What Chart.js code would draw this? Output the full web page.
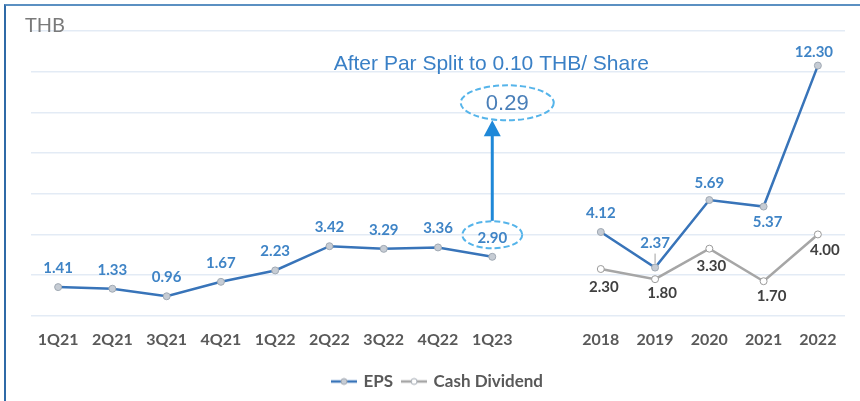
<!DOCTYPE html>
<html>
<head>
<meta charset="utf-8">
<script src="https://cdn.jsdelivr.net/npm/chart.js@4.4.1/dist/chart.umd.min.js"></script>
<style>
  html, body { margin: 0; padding: 0; background: #fff; }
  #wrap { position: relative; width: 860px; height: 401px; overflow: hidden; }
  #frame {
    position: absolute; left: 4px; top: 4px; right: 0; bottom: 0;
    border-top: 2px solid #5b90c2; border-left: 2px solid #2f6aa7;
    pointer-events: none;
  }
</style>
</head>
<body>
<div id="wrap">
  <canvas id="epsChart" width="860" height="401"></canvas>
  <div id="frame"></div>
</div>
<script>
// Values
const quarters = ['1Q21', '2Q21', '3Q21', '4Q21', '1Q22', '2Q22', '3Q22', '4Q22', '1Q23'];
const years = ['2018', '2019', '2020', '2021', '2022'];

const epsQuarter = [1.41, 1.33, 0.96, 1.67, 2.23, 3.42, 3.29, 3.36, 2.90];
const epsYear = [4.12, 2.37, 5.69, 5.37, 12.30];
const dividendYear = [2.30, 1.80, 3.30, 1.70, 4.00];

const yMin = 0;
const yMax = 14;
const yStep = 2;

const splitNote = 'After Par Split to 0.10 THB/ Share';
const splitValue = '0.29';

// one blank slot between the quarterly and yearly parts
const labels = quarters.concat([''], years);
const epsData = epsQuarter.concat([null], epsYear);
const dividendData = quarters.map(() => null).concat([null], dividendYear);

const EPS_BLUE = '#3874b9';
const EPS_TEXT = '#3f84c6';
const DIV_GRAY = '#a6a6a6';
const DIV_TEXT = '#404040';
const NOTE_BLUE = '#3a80c6';
const DASH_BLUE = '#55b4ea';

// label placement tweaks: [dx, dy] from the point
const epsLabelShift = { '2019': [0, -24], '2020': [0, -17], '2021': [4, 16], '2022': [-4, -13] };
const divLabelShift = { '2018': [3, 18], '2019': [7, 14], '2020': [2, 17], '2021': [8, 15], '2022': [7, 16] };

function legendIcon(color, fill) {
    const c = document.createElement('canvas');
    c.width = 26; c.height = 10;
    const g = c.getContext('2d');
    g.strokeStyle = color;
    g.lineWidth = 2.5;
    g.beginPath(); g.moveTo(0, 5); g.lineTo(26, 5); g.stroke();
    g.fillStyle = fill;
    g.lineWidth = 1;
    g.strokeStyle = '#a0a7b0';
    g.beginPath(); g.arc(13, 5, 3, 0, Math.PI * 2); g.fill(); g.stroke();
    return c;
}

const valueLabels = {
    id: 'valueLabels',
    afterDatasetsDraw(chart) {
        const ctx = chart.ctx;
        ctx.save();
        ctx.font = 'bold 15px Lato';
        ctx.textAlign = 'center';
        ctx.textBaseline = 'middle';
        chart.data.datasets.forEach((ds, di) => {
            const meta = chart.getDatasetMeta(di);
            meta.data.forEach((pt, i) => {
                const v = ds.data[i];
                if (v === null || v === undefined) return;
                const cat = labels[i];
                let shift;
                if (di === 0) {
                    shift = epsLabelShift[cat] || [0, -19];
                    ctx.fillStyle = EPS_TEXT;
                } else {
                    shift = divLabelShift[cat] || [0, 16];
                    ctx.fillStyle = DIV_TEXT;
                }
                ctx.fillText(v.toFixed(2), pt.x + shift[0], pt.y + shift[1]);
                if (di === 0 && cat === '2019') {
                    // small leader line under 2.37
                    ctx.strokeStyle = '#a0a0a0';
                    ctx.lineWidth = 1;
                    ctx.beginPath();
                    ctx.moveTo(pt.x, pt.y - 14);
                    ctx.lineTo(pt.x, pt.y - 4);
                    ctx.stroke();
                }
            });
        });
        ctx.restore();
    }
};

function dashedEllipse(ctx, cx, cy, rx, ry) {
    ctx.save();
    ctx.strokeStyle = DASH_BLUE;
    ctx.lineWidth = 2;
    ctx.setLineDash([6, 3]);
    ctx.beginPath();
    ctx.ellipse(cx, cy, rx, ry, 0, 0, Math.PI * 2);
    ctx.stroke();
    ctx.restore();
}

const splitNotes = {
    id: 'splitNotes',
    afterDraw(chart) {
        const ctx = chart.ctx;
        const area = chart.chartArea;
        const pt = chart.getDatasetMeta(0).data[quarters.length - 1];
        const px = pt.x, py = pt.y;

        ctx.save();
        // unit caption
        ctx.fillStyle = '#7a7a7a';
        ctx.font = '20px Lato';
        ctx.textAlign = 'left';
        ctx.textBaseline = 'alphabetic';
        ctx.fillText('THB', area.left - 6, area.top + 1);

        // ring around the last quarterly label
        dashedEllipse(ctx, px, py - 22, 30, 13.5);

        // arrow up to the split value
        const bigCy = py - 154;
        const tipY = bigCy + 17.5;
        ctx.strokeStyle = '#1f88d8';
        ctx.fillStyle = '#1f88d8';
        ctx.lineWidth = 3;
        ctx.beginPath();
        ctx.moveTo(px, py - 36);
        ctx.lineTo(px, tipY + 14);
        ctx.stroke();
        ctx.beginPath();
        ctx.moveTo(px, tipY);
        ctx.lineTo(px - 8.5, tipY + 16);
        ctx.lineTo(px + 8.5, tipY + 16);
        ctx.closePath();
        ctx.fill();

        dashedEllipse(ctx, px + 15, bigCy, 46.5, 17.5);

        ctx.fillStyle = '#4a7fb8';
        ctx.font = '22px "Liberation Sans", Arial, sans-serif';
        ctx.textAlign = 'center';
        ctx.textBaseline = 'middle';
        ctx.fillText(splitValue, px + 15, bigCy + 1);

        ctx.fillStyle = NOTE_BLUE;
        ctx.font = '21px "Liberation Sans", Arial, sans-serif';
        ctx.fillText(splitNote, px - 1, py - 193);
        ctx.restore();
    }
};

new Chart(document.getElementById('epsChart'), {
    type: 'line',
    data: {
        labels: labels,
        datasets: [
            {
                label: 'EPS',
                data: epsData,
                borderColor: EPS_BLUE,
                borderWidth: 2.5,
                pointRadius: 3.5,
                pointBackgroundColor: '#c6ccd4',
                pointBorderColor: '#a0a9b3',
                pointBorderWidth: 1,
                spanGaps: false,
                tension: 0
            },
            {
                label: 'Cash Dividend',
                data: dividendData,
                borderColor: DIV_GRAY,
                borderWidth: 2.5,
                pointRadius: 3.5,
                pointBackgroundColor: '#ffffff',
                pointBorderColor: '#9a9a9a',
                pointBorderWidth: 1,
                spanGaps: false,
                tension: 0
            }
        ]
    },
    options: {
        responsive: false,
        animation: false,
        layout: { padding: { left: 31, right: 15, top: 31, bottom: 1 } },
        scales: {
            x: {
                offset: true,
                grid: { display: false, drawTicks: false },
                border: { display: false },
                ticks: {
                    color: '#595959',
                    font: { family: 'Lato', size: 16, weight: 'bold' },
                    padding: 14,
                    autoSkip: false,
                    maxRotation: 0
                }
            },
            y: {
                min: yMin,
                max: yMax,
                ticks: { display: false, stepSize: yStep },
                grid: { color: '#e3ebf5', lineWidth: 1.5, drawTicks: false },
                border: { display: false }
            }
        },
        plugins: {
            tooltip: { enabled: false },
            legend: {
                position: 'bottom',
                labels: {
                    usePointStyle: true,
                    pointStyleWidth: 22,
                    color: '#595959',
                    font: { family: 'Lato', size: 17, weight: 'bold' },
                    padding: 10,
                    generateLabels: () => [
                        { text: 'EPS', pointStyle: legendIcon(EPS_BLUE, '#c6ccd4'), fillStyle: EPS_BLUE, strokeStyle: EPS_BLUE, lineWidth: 0, datasetIndex: 0, fontColor: '#595959' },
                        { text: 'Cash Dividend', pointStyle: legendIcon(DIV_GRAY, '#ffffff'), fillStyle: DIV_GRAY, strokeStyle: DIV_GRAY, lineWidth: 0, datasetIndex: 1, fontColor: '#595959' }
                    ]
                }
            }
        }
    },
    plugins: [valueLabels, splitNotes]
});
</script>
</body>
</html>
